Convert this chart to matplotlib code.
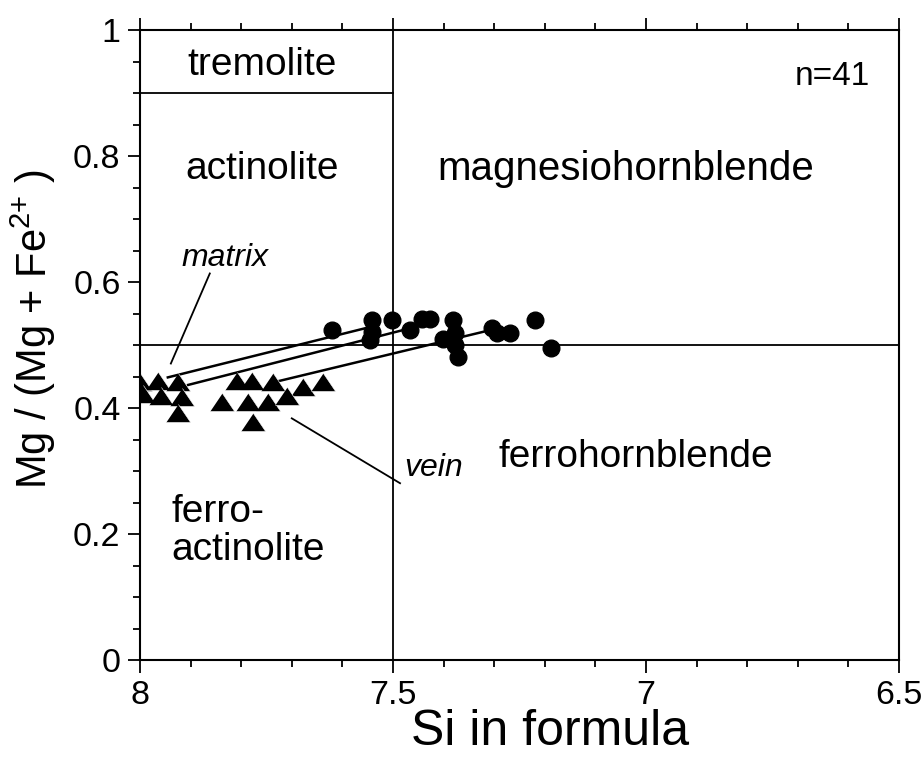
import matplotlib
matplotlib.use("Agg")
import matplotlib.pyplot as plt
from matplotlib.ticker import MultipleLocator, FixedLocator

plt.rcParams['font.family'] = ['Liberation Sans', 'DejaVu Sans']
plt.rcParams['mathtext.fontset'] = 'custom'
plt.rcParams['mathtext.rm'] = 'Liberation Sans'

# matrix amphiboles (triangles)
tri_si = [8.00, 7.964, 7.925, 7.994, 7.958, 7.917, 7.925,
          7.808, 7.779, 7.737, 7.678, 7.638,
          7.838, 7.787, 7.747, 7.710, 7.777]
tri_mg = [0.441, 0.444, 0.441, 0.422, 0.419, 0.418, 0.392,
          0.444, 0.444, 0.441, 0.433, 0.441,
          0.410, 0.410, 0.410, 0.420, 0.378]

# vein amphiboles (circles)
cir_si = [7.621, 7.542, 7.542, 7.546, 7.502, 7.466, 7.443, 7.427, 7.381,
          7.377, 7.401, 7.377, 7.372, 7.304, 7.294, 7.269, 7.219, 7.188]
cir_mg = [0.524, 0.540, 0.521, 0.508, 0.540, 0.525, 0.541, 0.541, 0.540,
          0.519, 0.510, 0.500, 0.481, 0.527, 0.519, 0.519, 0.540, 0.495]

# tie lines matrix -> vein
tie_si = [(7.945, 7.545), (7.905, 7.466), (7.737, 7.308)]
tie_mg = [(0.449, 0.529), (0.437, 0.527), (0.441, 0.524)]

x_ticks = [8, 7.5, 7, 6.5]
x_labels = ['8', '7.5', '7', '6.5']
y_ticks = [0, 0.2, 0.4, 0.6, 0.8, 1]
y_labels = ['0', '0.2', '0.4', '0.6', '0.8', '1']

fig = plt.figure(figsize=(9.21, 7.58), dpi=100)
ax = fig.add_axes([0.152, 0.129, 0.824, 0.831])

# field boundaries
ax.plot([8, 7.5], [0.9, 0.9], color='black', lw=1.3)
ax.plot([7.5, 7.5], [0, 1], color='black', lw=1.3)
ax.plot([8, 6.5], [0.5, 0.5], color='black', lw=1.3)

for s, m in zip(tie_si, tie_mg):
    ax.plot(s, m, color='black', lw=1.8)

tri = [(-1, -0.74), (1, -0.74), (0, 0.74)]
ax.plot(tri_si, tri_mg, linestyle='none', marker=tri, ms=17.5,
        color='black', mec='white', mew=0.4)
ax.plot(cir_si, cir_mg, linestyle='none', marker='o', ms=12, color='black')

fs = 28
ax.text(7.759, 0.945, 'tremolite', ha='center', va='center', fontsize=fs)
ax.text(7.759, 0.780, 'actinolite', ha='center', va='center', fontsize=fs)
ax.text(7.040, 0.780, 'magnesiohornblende', ha='center', va='center', fontsize=29)
ax.text(7.020, 0.322, 'ferrohornblende', ha='center', va='center', fontsize=fs)
ax.text(7.937, 0.205, 'ferro-\nactinolite', ha='left', va='center',
        fontsize=fs, linespacing=1.05)
ax.text(6.557, 0.926, 'n=41', ha='right', va='center', fontsize=24)

ax.text(7.832, 0.638, 'matrix', ha='center', va='center', fontsize=23,
        style='italic')
ax.plot([7.862, 7.939], [0.614, 0.471], color='black', lw=1.3)
ax.text(7.420, 0.305, 'vein', ha='center', va='center', fontsize=23,
        style='italic')
ax.plot([7.700, 7.486], [0.384, 0.281], color='black', lw=1.3)

ax.set_xlim(8, 6.5)
ax.set_ylim(0, 1)
ax.xaxis.set_major_locator(FixedLocator(x_ticks))
ax.xaxis.set_minor_locator(MultipleLocator(0.1))
ax.set_xticklabels(x_labels)
ax.yaxis.set_major_locator(FixedLocator(y_ticks))
ax.yaxis.set_minor_locator(MultipleLocator(0.05))
ax.set_yticklabels(y_labels)
ax.tick_params(which='both', direction='out', top=True, right=False,
               labelsize=24.5, width=1.3, pad=5)
ax.tick_params(which='major', length=9)
ax.tick_params(which='minor', length=5)
for sp in ax.spines.values():
    sp.set_linewidth(1.5)

ax.set_xlabel('Si in formula', fontsize=36)
ax.xaxis.set_label_coords(0.54, -0.078)
ax.set_ylabel('Mg / (Mg + Fe$^{2{+}}$ )', fontsize=30)
ax.yaxis.set_label_coords(-0.108, 0.525)

fig.savefig('out.png', dpi=100)
